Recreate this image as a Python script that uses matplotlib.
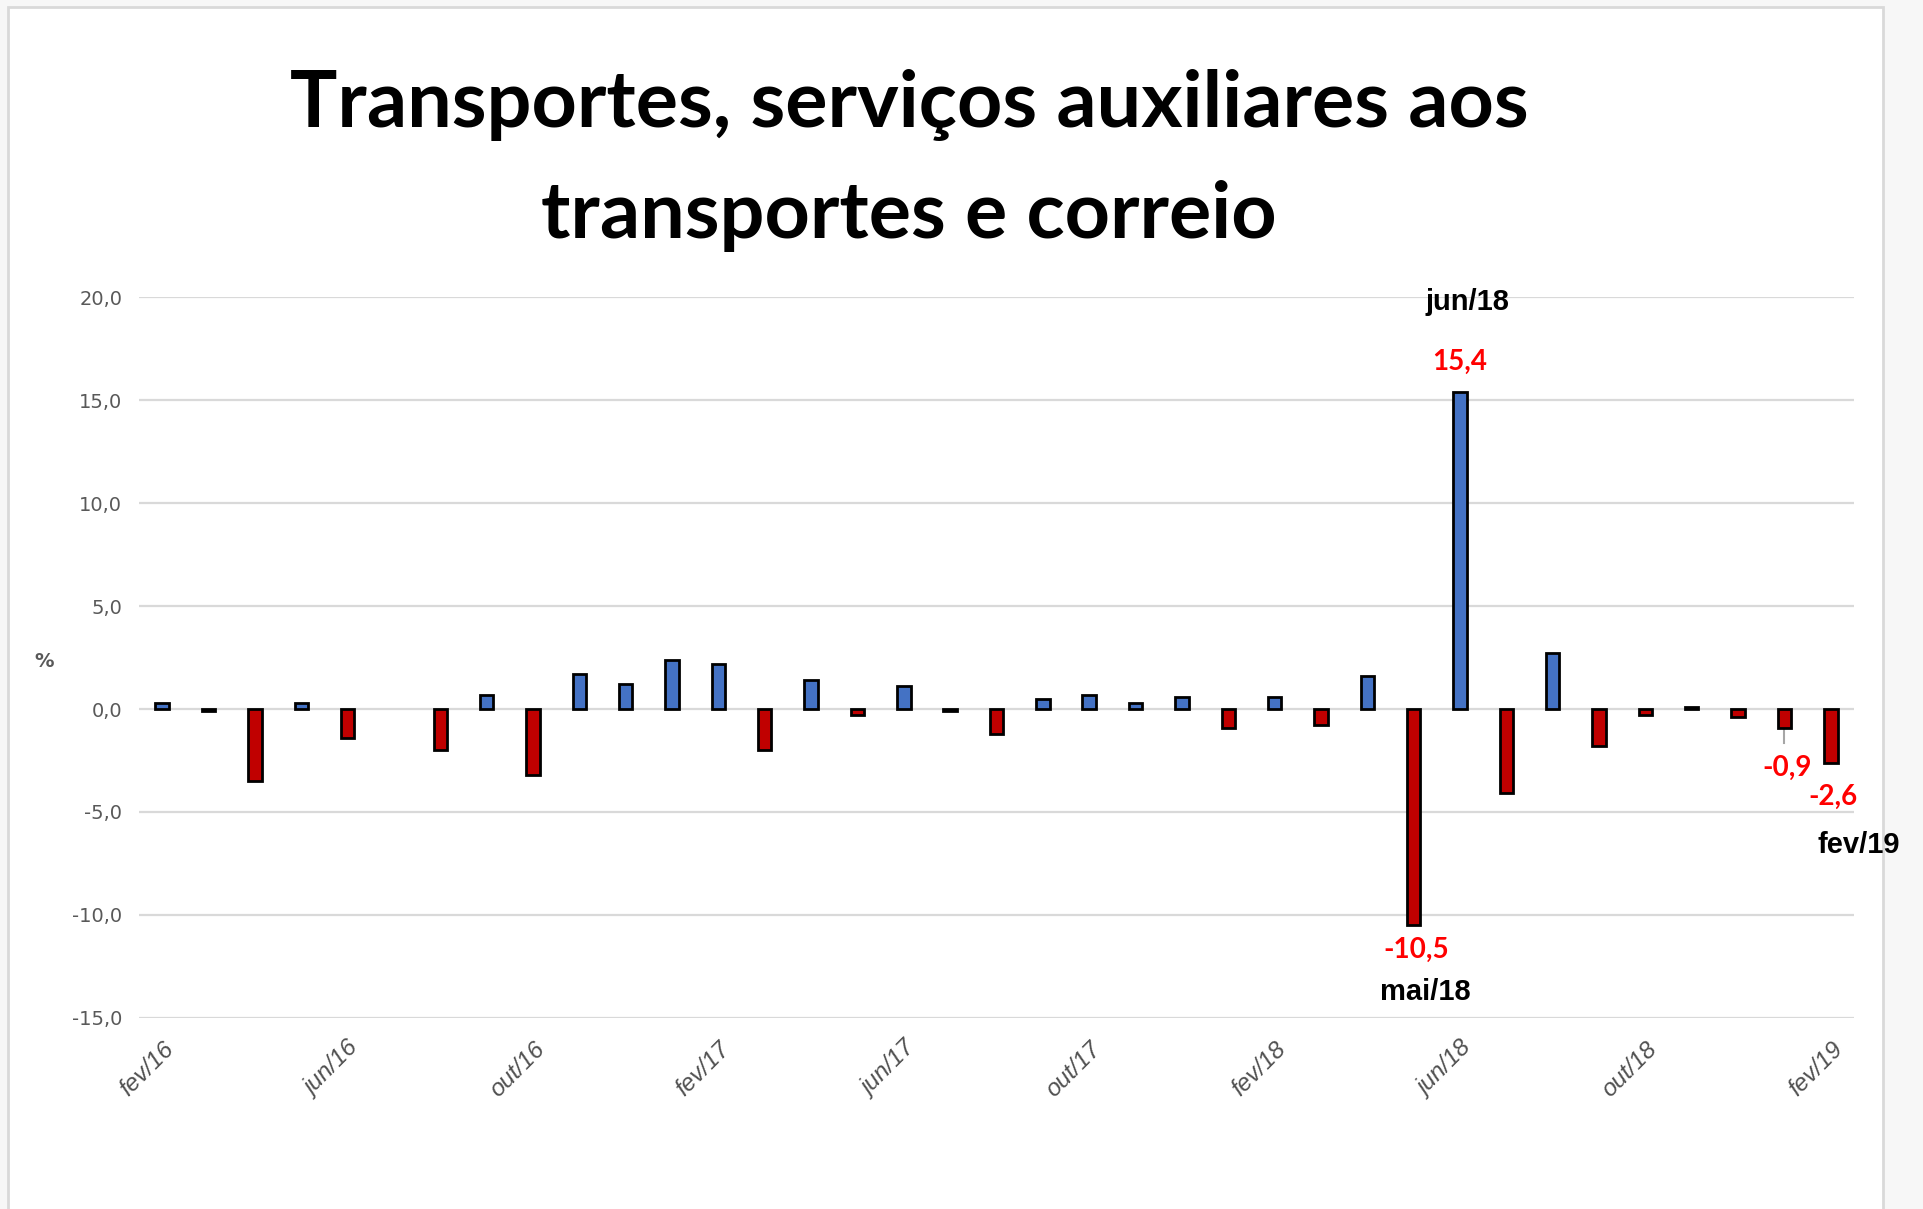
import matplotlib
matplotlib.use("Agg")
import matplotlib.pyplot as plt
from matplotlib.patches import Rectangle

# Monthly change (%) fev/16 .. fev/19
months = [
    "fev/16", "mar/16", "abr/16", "mai/16", "jun/16", "jul/16", "ago/16", "set/16",
    "out/16", "nov/16", "dez/16", "jan/17", "fev/17", "mar/17", "abr/17", "mai/17",
    "jun/17", "jul/17", "ago/17", "set/17", "out/17", "nov/17", "dez/17", "jan/18",
    "fev/18", "mar/18", "abr/18", "mai/18", "jun/18", "jul/18", "ago/18", "set/18",
    "out/18", "nov/18", "dez/18", "jan/19", "fev/19",
]
values = [
    0.3, -0.1, -3.5, 0.3, -1.4, 0.0, -2.0, 0.7,
    -3.2, 1.7, 1.2, 2.4, 2.2, -2.0, 1.4, -0.3,
    1.1, -0.1, -1.2, 0.5, 0.7, 0.3, 0.6, -0.9,
    0.6, -0.8, 1.6, -10.5, 15.4, -4.1, 2.7, -1.8,
    -0.3, 0.1, -0.4, -0.9, -2.6,
]
yticks = [-15, -10, -5, 0, 5, 10, 15, 20]
title_lines = ["Transportes, serviços auxiliares aos", "transportes e correio"]

BLUE = "#4472C4"
RED = "#C00000"
GRAY = "#595959"

fig = plt.figure(figsize=(19.23, 12.09), dpi=100)
fig.patch.set_facecolor("#F7F7F7")
# white chart panel with light border
fig.patches.append(Rectangle((0.0042, -0.01), 0.9750, 1.0042, transform=fig.transFigure,
                             facecolor="white", edgecolor="#D9D9D9", linewidth=2, zorder=-10))

ax = fig.add_axes([0.0723, 0.158, 0.8918, 0.5963])
ax.set_facecolor("none")
ax.set_zorder(5)

x = list(range(len(months)))
colors = [BLUE if v >= 0 else RED for v in values]
edges = ["black" if v != 0 else "none" for v in values]
ax.bar(x, values, width=0.29, color=colors, edgecolor=edges, linewidth=2, zorder=3)

ax.set_xlim(-0.5, len(months) - 0.5)
ax.set_ylim(-15, 20)
ax.set_yticks(yticks)
ax.set_yticklabels([f"{t:.1f}".replace(".", ",") for t in yticks],
                   fontsize=14, color=GRAY, family="DejaVu Sans")
ax.grid(axis="y", color="#D9D9D9", linewidth=1.6, zorder=0)
ax.set_axisbelow(True)
ax.tick_params(axis="y", length=0, pad=12)
ax.tick_params(axis="x", length=0, pad=14)
for s in ax.spines.values():
    s.set_visible(False)

tick_idx = x[::4]
ax.set_xticks(tick_idx)
ax.set_xticklabels([months[i] for i in tick_idx], rotation=45, ha="right", va="top",
                   rotation_mode="anchor", fontsize=17.5, color="#505050",
                   family="Liberation Sans", style="italic")

# "%" axis label
fig.text(44 / 1923, 1 - 661 / 1209, "%", fontsize=14, fontweight="bold", color=GRAY,
         ha="center", va="center", family="DejaVu Sans")

# title
fig.text(0.4727, 0.913, title_lines[0], fontsize=57, fontweight="bold", family="Lato",
         ha="center", va="center")
fig.text(0.4727, 0.821, title_lines[1], fontsize=57, fontweight="bold", family="Lato",
         ha="center", va="center")

# annotations
i_mai, i_jun, i_jan, i_fev = 27, 28, 35, 36
red_kw = dict(color="#FF0000", fontsize=20, fontweight="bold", family="Lato",
              ha="center", va="center", clip_on=False)
blk_kw = dict(color="black", fontsize=21, fontweight="bold", family="Liberation Sans",
              ha="center", va="center", clip_on=False)
ax.text(i_jun + 0.15, 19.75, months[i_jun], **blk_kw)
ax.text(i_jun, 16.85, f"{values[i_jun]:.1f}".replace(".", ","), **red_kw)
ax.text(i_mai + 0.05, -11.7, f"{values[i_mai]:.1f}".replace(".", ","), **red_kw)
ax.text(i_mai + 0.25, -13.75, months[i_mai], **blk_kw)
ax.plot([i_jan, i_jan], [values[i_jan], -1.65], color="#A6A6A6", linewidth=1.5, zorder=2)
ax.text(i_jan + 0.05, -2.85, f"{values[i_jan]:.1f}".replace(".", ","), **red_kw)
ax.text(i_fev + 0.05, -4.27, f"{values[i_fev]:.1f}".replace(".", ","), **red_kw)
ax.text(i_fev + 0.6, -6.6, months[i_fev], **blk_kw)

fig.savefig("out.png", dpi=100)
plt.close()
